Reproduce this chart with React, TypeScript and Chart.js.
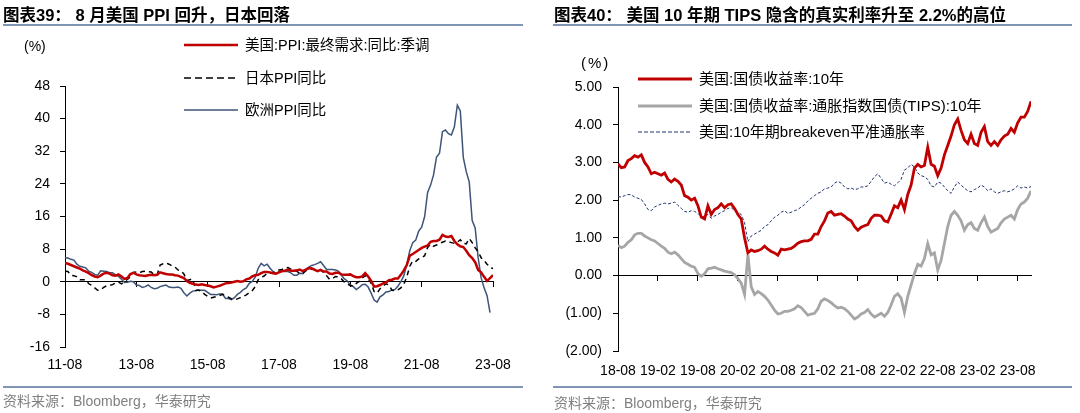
import React, { useEffect, useRef } from 'react';
import { Chart, registerables } from 'chart.js';

Chart.register(...registerables);

const FONT = 'Arial, "Liberation Sans", "Noto Sans CJK SC", sans-serif';

// ---------- Left chart (图表39) ----------
const leftStart = '2011-08';
const leftEnd = '2023-08';
const leftTickLabels = ['11-08', '13-08', '15-08', '17-08', '19-08', '21-08', '23-08'];
const leftYTicks = [-16, -8, 0, 8, 16, 24, 32, 40, 48];
const leftLegend = ['美国:PPI:最终需求:同比:季调', '日本PPI同比', '欧洲PPI同比'];

// US PPI final demand YoY, monthly from 2011-08
const usPpi = [
  4.6, 4.4, 4.1, 3.8, 3.5, 3.2, 2.8, 2.5, 2.1, 1.6, 1.3, 1.1,
  1.5, 2.0, 2.2, 2.0, 1.6, 1.5, 1.8, 1.3, 0.7, 0.9, 1.9, 2.2,
  1.8, 1.6, 1.5, 1.4, 1.6, 1.7, 1.6, 1.7, 2.3, 2.1, 1.9, 1.8,
  1.8, 1.6, 1.5, 1.2, 0.9, 0.2, -0.3, -0.5, -0.7, -0.8, -0.6, -0.8,
  -0.9, -1.1, -1.4, -1.2, -1.0, -0.7, -0.4, -0.3, -0.2, 0.0, 0.2, 0.0,
  0.1, 0.6, 0.8, 1.3, 1.6, 1.7, 2.1, 2.4, 2.4, 2.3, 2.1, 2.0,
  2.3, 2.6, 2.7, 3.0, 2.7, 2.7, 2.8, 3.0, 2.6, 3.0, 3.3, 3.3,
  2.9, 2.6, 2.9, 2.5, 2.5, 2.0, 1.9, 2.2, 2.2, 1.8, 1.7, 1.7,
  1.8, 1.4, 1.1, 1.1, 1.3, 2.1, 1.3, 0.2, -1.2, -1.1, -0.8, -0.4,
  -0.2, 0.4, 0.5, 0.8, 0.8, 1.7, 2.8, 4.1, 6.4, 6.8, 7.3, 7.8,
  8.3, 8.6, 8.9, 9.8, 10.0, 10.0, 10.3, 11.5, 11.1, 11.0, 11.2, 10.0,
  9.2, 8.7, 8.5, 7.6, 6.5, 5.8, 4.8, 2.9, 2.3, 1.2, 0.2, 0.9,
  1.6,
];

// Japan PPI YoY, monthly from 2011-08
const jpPpi = [
  2.6, 2.5, 1.6, 1.5, 1.2, 0.5, 0.5, 0.5, -0.5, -0.9, -1.5, -2.1,
  -2.0, -1.4, -1.0, -0.9, -0.7, -0.3, -0.1, -0.5, 0.1, 0.6, 1.2, 2.3,
  2.4, 2.2, 2.5, 2.6, 2.5, 2.4, 1.7, 1.7, 4.1, 4.4, 4.6, 4.3,
  3.9, 3.6, 2.9, 2.7, 1.9, 0.3, 0.5, 0.7, -2.1, -2.1, -2.4, -3.1,
  -3.6, -4.0, -3.8, -3.6, -3.4, -3.1, -3.4, -3.8, -4.2, -4.4, -4.2, -3.9,
  -3.6, -3.2, -2.7, -2.2, -1.2, 0.5, 1.1, 1.4, 2.1, 2.1, 2.2, 2.6,
  2.9, 3.0, 3.4, 3.5, 3.1, 2.7, 2.6, 2.0, 2.0, 2.7, 2.8, 3.1,
  3.0, 3.0, 2.9, 2.3, 1.5, 0.6, 0.8, 1.3, 1.2, 0.7, -0.1, -0.6,
  -0.9, -1.1, -0.4, 0.1, 0.9, 1.5, 0.8, -0.4, -2.4, -2.8, -1.7, -1.0,
  -0.5, -0.8, -2.1, -2.2, -2.0, -1.5, -0.6, 1.2, 3.8, 5.1, 5.0, 5.6,
  5.9, 6.4, 8.4, 9.2, 8.7, 9.0, 9.4, 9.7, 10.0, 9.8, 9.6, 9.4,
  9.7, 10.3, 9.4, 9.3, 10.6, 9.6, 8.3, 7.4, 5.9, 5.2, 4.3, 3.6,
  3.2,
];

// Euro area PPI YoY, monthly from 2011-08 (to 2023-07)
const euPpi = [
  5.9, 5.8, 5.5, 5.3, 4.3, 3.8, 3.6, 3.4, 2.6, 2.3, 1.8, 1.6,
  2.7, 2.6, 2.5, 2.2, 2.2, 1.7, 1.3, 0.6, -0.2, -0.1, 0.1, 0.0,
  -0.8, -0.9, -1.4, -1.2, -0.8, -1.4, -1.7, -1.6, -1.2, -1.0, -0.8, -1.3,
  -1.4, -1.4, -1.3, -1.6, -2.7, -3.5, -2.8, -2.3, -2.2, -2.0, -2.1, -2.1,
  -2.6, -3.1, -3.1, -3.2, -3.0, -3.0, -4.1, -4.1, -4.4, -3.9, -3.1, -2.6,
  -1.9, -1.5, -0.4, 0.1, 1.1, 3.3, 4.5, 3.9, 4.3, 3.3, 2.5, 2.0,
  2.5, 2.8, 2.5, 2.5, 2.2, 1.6, 1.6, 2.1, 2.0, 3.0, 3.6, 4.0,
  4.2, 4.5, 4.9, 4.0, 3.0, 3.0, 3.0, 2.9, 2.6, 1.6, 0.7, 0.2,
  -0.8, -1.2, -1.9, -1.4, -0.7, -0.6, -1.3, -2.8, -4.5, -5.0, -3.7, -3.2,
  -2.5, -2.4, -2.0, -1.9, -1.1, 0.0, 1.5, 4.3, 7.6, 9.6, 10.2, 12.4,
  13.4, 16.0, 21.9, 23.7, 26.2, 30.6, 31.5, 36.8, 37.2, 36.3, 36.0, 38.0,
  43.3, 41.9, 30.5, 27.0, 24.5, 15.0, 13.2, 5.9, 1.0, -1.5, -3.4, -7.6,
];

// ---------- Right chart (图表40) ----------
const rightStart = '2018-08';
const rightTickLabels = ['18-08', '19-02', '19-08', '20-02', '20-08', '21-02', '21-08', '22-02', '22-08', '23-02', '23-08'];
const rightYTicks = [-2, -1, 0, 1, 2, 3, 4, 5];
const rightLegend = ['美国:国债收益率:10年', '美国:国债收益率:通胀指数国债(TIPS):10年', '美国:10年期breakeven平准通胀率'];

// semi-monthly observations (1st and 16th of each month) from 2018-08-01
const us10y = [
  2.96, 2.86, 2.88, 3.05, 3.10, 3.18, 3.14, 3.20, 3.00, 2.88, 2.70, 2.74,
  2.70, 2.66, 2.72, 2.55, 2.48, 2.56, 2.50, 2.40, 2.12, 2.08, 2.00, 2.05,
  1.85, 1.55, 1.50, 1.85, 1.62, 1.75, 1.80, 1.90, 1.80, 1.88, 1.90, 1.78,
  1.62, 1.50, 1.00, 0.60, 0.68, 0.64, 0.66, 0.70, 0.78, 0.70, 0.64, 0.60,
  0.54, 0.70, 0.68, 0.70, 0.72, 0.78, 0.86, 0.90, 0.92, 0.92, 0.96, 1.10,
  1.10, 1.30, 1.45, 1.66, 1.70, 1.60, 1.62, 1.64, 1.58, 1.50, 1.45, 1.30,
  1.20, 1.28, 1.32, 1.35, 1.52, 1.60, 1.60, 1.58, 1.45, 1.42, 1.63, 1.85,
  1.80, 2.00, 1.75, 2.15, 2.40, 2.85, 2.95, 2.88, 2.92, 3.40, 2.95, 2.90,
  2.65, 2.85, 3.20, 3.45, 3.70, 4.00, 4.15, 3.85, 3.60, 3.50, 3.75, 3.50,
  3.45, 3.80, 3.95, 3.55, 3.45, 3.55, 3.45, 3.60, 3.70, 3.75, 3.90, 3.80,
  4.05, 4.20, 4.20, 4.35, 4.62,
];

const tips10y = [
  0.80, 0.74, 0.78, 0.88, 0.95, 1.08, 1.12, 1.12, 1.05, 1.00, 0.95, 0.92,
  0.85, 0.78, 0.72, 0.62, 0.58, 0.62, 0.55, 0.45, 0.35, 0.30, 0.25, 0.22,
  0.05, -0.02, 0.05, 0.18, 0.20, 0.22, 0.18, 0.15, 0.12, 0.10, 0.08, 0.02,
  -0.08, -0.20, -0.50, 0.55, -0.30, -0.50, -0.42, -0.48, -0.55, -0.65, -0.78, -0.92,
  -1.02, -1.00, -0.95, -0.95, -0.92, -0.88, -0.80, -0.85, -0.95, -1.05, -1.02, -1.00,
  -0.88, -0.68, -0.62, -0.66, -0.72, -0.80, -0.86, -0.84, -0.88, -0.95, -1.05, -1.15,
  -1.10, -1.02, -0.98, -0.90, -1.02, -1.10, -1.05, -1.00, -1.08, -0.98, -0.78, -0.55,
  -0.48, -0.60, -0.98, -0.55, -0.25, 0.05, 0.30, 0.25, 0.45, 0.85, 0.55, 0.60,
  0.15, 0.40, 0.85, 1.30, 1.60, 1.70, 1.60, 1.45, 1.20, 1.35, 1.40, 1.25,
  1.20, 1.40, 1.55, 1.30, 1.15, 1.20, 1.25, 1.40, 1.50, 1.55, 1.60, 1.50,
  1.75, 1.90, 1.95, 2.05, 2.25,
];

const breakeven = [
  2.10, 2.08, 2.12, 2.15, 2.14, 2.08, 2.05, 2.02, 1.90, 1.75, 1.72, 1.82,
  1.86, 1.90, 1.92, 1.90, 1.92, 1.95, 1.86, 1.78, 1.70, 1.68, 1.72, 1.70,
  1.65, 1.55, 1.58, 1.62, 1.52, 1.58, 1.62, 1.68, 1.72, 1.78, 1.80, 1.72,
  1.68, 1.62, 1.40, 0.90, 1.05, 1.10, 1.15, 1.20, 1.30, 1.35, 1.45, 1.55,
  1.60, 1.68, 1.72, 1.65, 1.68, 1.72, 1.75, 1.82, 1.88, 1.98, 2.05, 2.12,
  2.18, 2.22, 2.30, 2.32, 2.35, 2.45, 2.50, 2.45, 2.35, 2.30, 2.32, 2.28,
  2.30, 2.35, 2.35, 2.38, 2.50, 2.62, 2.70, 2.58, 2.45, 2.48, 2.42, 2.38,
  2.46, 2.55, 2.80, 2.85, 2.95, 2.88, 2.72, 2.65, 2.62, 2.55, 2.38, 2.35,
  2.48, 2.45, 2.35, 2.25, 2.18, 2.35, 2.48, 2.40, 2.32, 2.25, 2.22, 2.28,
  2.32, 2.40, 2.35, 2.25, 2.30, 2.22, 2.18, 2.22, 2.25, 2.22, 2.25, 2.30,
  2.38, 2.32, 2.35, 2.32, 2.36,
];
const rightEndMonth = '2023-10';

// ---------- helpers ----------
const monthNum = (ym: string) => {
  const [y, m] = ym.split('-').map(Number);
  return y * 12 + (m - 1);
};
const monthlyDates = (start: string, n: number) => {
  const s = monthNum(start);
  return Array.from({ length: n }, (_, i) => {
    const t = s + i;
    return `${Math.floor(t / 12)}-${String((t % 12) + 1).padStart(2, '0')}-01`;
  });
};
const semiMonthlyDates = (start: string, n: number) => {
  const s = monthNum(start);
  return Array.from({ length: n }, (_, i) => {
    const t = s + Math.floor(i / 2);
    return `${Math.floor(t / 12)}-${String((t % 12) + 1).padStart(2, '0')}-${i % 2 ? '16' : '01'}`;
  });
};
const dateToX = (start: string, d: string) => {
  const [y, m, day] = d.split('-').map(Number);
  return monthNum(`${y}-${m}`) - monthNum(start) + (day - 1) / 30;
};

const leftDates = monthlyDates(leftStart, usPpi.length);
const rightDates = semiMonthlyDates(rightStart, us10y.length);
const toPts = (start: string, dates: string[], vals: number[]) =>
  vals.map((v, i) => ({ x: dateToX(start, dates[i]), y: v }));

const tickFont = { family: FONT, size: 14 };

function makeLeft(canvas: HTMLCanvasElement) {
  const span = monthNum(leftEnd) - monthNum(leftStart);
  const step = span / (leftTickLabels.length - 1);
  return new Chart(canvas, {
    type: 'line',
    data: {
      datasets: [
        { label: leftLegend[0], data: toPts(leftStart, leftDates, usPpi), borderColor: '#C00000', borderWidth: 2.5, pointRadius: 0, tension: 0 },
        { label: leftLegend[1], data: toPts(leftStart, leftDates, jpPpi), borderColor: '#000000', borderWidth: 1.5, borderDash: [5, 4], pointRadius: 0, tension: 0 },
        { label: leftLegend[2], data: toPts(leftStart, leftDates, euPpi), borderColor: '#3E5478', borderWidth: 1.5, pointRadius: 0, tension: 0 },
      ],
    },
    options: {
      responsive: false,
      animation: false,
      devicePixelRatio: 1,
      layout: { padding: { left: 5, right: 47, top: 86, bottom: 36 } },
      plugins: { legend: { display: false }, tooltip: { enabled: false } },
      scales: {
        x: {
          type: 'linear', position: 'bottom', min: 0, max: span,
          border: { display: false }, grid: { display: false, drawTicks: false },
          ticks: { stepSize: step, padding: 10, color: '#000', font: tickFont, maxRotation: 0, autoSkip: false,
            callback: (v: any) => leftTickLabels[Math.round(Number(v) / step)] ?? '' },
          afterFit: (s: any) => { s.height = 30; },
        },
        x2: {
          type: 'linear', axis: 'x', position: { y: 0 }, min: 0, max: span,
          border: { display: true, color: '#000', width: 1 },
          grid: { drawOnChartArea: false, drawTicks: true, tickLength: 5, tickColor: '#000' },
          ticks: { stepSize: step, display: false },
        },
        y: {
          type: 'linear', min: leftYTicks[0], max: leftYTicks[leftYTicks.length - 1],
          border: { display: true, color: '#000', width: 1 },
          grid: { drawOnChartArea: false, tickLength: 5, tickColor: '#000' },
          ticks: { stepSize: leftYTicks[1] - leftYTicks[0], padding: 10, color: '#000', font: tickFont },
          afterFit: (s: any) => { s.width = 60; },
        },
      },
    } as any,
  });
}

function makeRight(canvas: HTMLCanvasElement) {
  const span = monthNum(rightEndMonth) - monthNum(rightStart);
  const step = 6;
  const fmt = (v: number) => (v < 0 ? `(${Math.abs(v).toFixed(2)})` : v.toFixed(2));
  return new Chart(canvas, {
    type: 'line',
    data: {
      datasets: [
        { label: rightLegend[0], data: toPts(rightStart, rightDates, us10y), borderColor: '#C00000', borderWidth: 2.8, pointRadius: 0, tension: 0 },
        { label: rightLegend[1], data: toPts(rightStart, rightDates, tips10y), borderColor: '#A6A6A6', borderWidth: 2.8, pointRadius: 0, tension: 0 },
        { label: rightLegend[2], data: toPts(rightStart, rightDates, breakeven), borderColor: '#1F3470', borderWidth: 1, borderDash: [3, 2], pointRadius: 0, tension: 0 },
      ],
    },
    options: {
      responsive: false,
      animation: false,
      devicePixelRatio: 1,
      layout: { padding: { left: 18, right: 49, top: 87, bottom: 32 } },
      plugins: { legend: { display: false }, tooltip: { enabled: false } },
      scales: {
        x: {
          type: 'linear', position: 'bottom', min: 0, max: span,
          border: { display: false }, grid: { display: false, drawTicks: false },
          ticks: { stepSize: step, includeBounds: false, padding: 12, color: '#000', font: tickFont, maxRotation: 0, autoSkip: false,
            callback: (v: any) => rightTickLabels[Math.round(Number(v) / step)] ?? '' },
          afterFit: (s: any) => { s.height = 30; },
        },
        x2: {
          type: 'linear', axis: 'x', position: { y: 0 }, min: 0, max: span,
          border: { display: true, color: '#000', width: 1 },
          grid: { drawOnChartArea: false, drawTicks: true, tickLength: 5, tickColor: '#000' },
          ticks: { stepSize: step, includeBounds: false, display: false },
        },
        y: {
          type: 'linear', min: rightYTicks[0], max: rightYTicks[rightYTicks.length - 1],
          border: { display: true, color: '#000', width: 1 },
          grid: { drawOnChartArea: false, tickLength: 5, tickColor: '#000' },
          ticks: { stepSize: 1, padding: 11, color: '#000', font: tickFont, callback: (v: any) => fmt(Number(v)) },
          afterFit: (s: any) => { s.width = 60; },
        },
      },
    } as any,
  });
}

const abs = (left: number, top: number, extra: React.CSSProperties = {}): React.CSSProperties => ({
  position: 'absolute', left, top, whiteSpace: 'nowrap', ...extra,
});

function LegendRow({ x, y, textX, text, color, width, dash, size }: any) {
  const len = 54;
  return (
    <>
      <svg style={abs(x, y - 5)} width={len} height={10}>
        <line x1={0} y1={5} x2={len} y2={5} stroke={color} strokeWidth={width} strokeDasharray={dash} />
      </svg>
      <div style={abs(textX, y - 10, { fontSize: size, lineHeight: '20px', color: '#000' })}>{text}</div>
    </>
  );
}

export default function App() {
  const leftRef = useRef<HTMLCanvasElement>(null);
  const rightRef = useRef<HTMLCanvasElement>(null);

  useEffect(() => {
    const a = makeLeft(leftRef.current!);
    const b = makeRight(rightRef.current!);
    return () => { a.destroy(); b.destroy(); };
  }, []);

  const titleStyle: React.CSSProperties = { fontSize: 16.5, fontWeight: 'bold', lineHeight: '20px', color: '#000' };
  const srcStyle: React.CSSProperties = { fontSize: 14, lineHeight: '20px', color: '#7F7F7F' };

  return (
    <div style={{ position: 'absolute', left: 0, top: 0, width: 1080, height: 413, background: '#fff', overflow: 'hidden', fontFamily: FONT }}>
      {/* left panel */}
      <canvas ref={leftRef} width={540} height={413} style={{ position: 'absolute', left: 0, top: 0 }} />
      <div style={abs(3, 5, titleStyle)}>图表39：&nbsp;8 月美国 PPI 回升，日本回落</div>
      <div style={abs(3, 24, { width: 520, height: 2, background: '#7F95B3' })} />
      <div style={abs(24, 36, { fontSize: 14, lineHeight: '20px' })}>(%)</div>
      <LegendRow x={184} y={45} textX={245} text={leftLegend[0]} color="#C00000" width={2.5} size={14.5} />
      <LegendRow x={184} y={77.5} textX={245} text={leftLegend[1]} color="#000" width={1.5} dash="7 4" size={14.5} />
      <LegendRow x={184} y={110} textX={245} text={leftLegend[2]} color="#3E5478" width={1.5} size={14.5} />
      <div style={abs(3, 386, { width: 520, height: 2, background: '#7F95B3' })} />
      <div style={abs(3, 391, srcStyle)}>资料来源：Bloomberg，华泰研究</div>

      {/* right panel */}
      <canvas ref={rightRef} width={540} height={413} style={{ position: 'absolute', left: 540, top: 0 }} />
      <div style={abs(554, 5, titleStyle)}>图表40：&nbsp;美国 10 年期 TIPS 隐含的真实利率升至 2.2%的高位</div>
      <div style={abs(553, 24, { width: 519, height: 2, background: '#7F95B3' })} />
      <div style={abs(581, 52, { fontSize: 15, lineHeight: '22px', letterSpacing: 2 })}>(%)</div>
      <LegendRow x={638} y={78.5} textX={699} text={rightLegend[0]} color="#C00000" width={3} size={15} />
      <LegendRow x={638} y={106} textX={699} text={rightLegend[1]} color="#A6A6A6" width={3} size={15} />
      <LegendRow x={638} y={132} textX={699} text={rightLegend[2]} color="#1F3470" width={1} dash="4 2" size={15} />
      <div style={abs(553, 386, { width: 519, height: 2, background: '#7F95B3' })} />
      <div style={abs(554, 393, srcStyle)}>资料来源：Bloomberg，华泰研究</div>
    </div>
  );
}
